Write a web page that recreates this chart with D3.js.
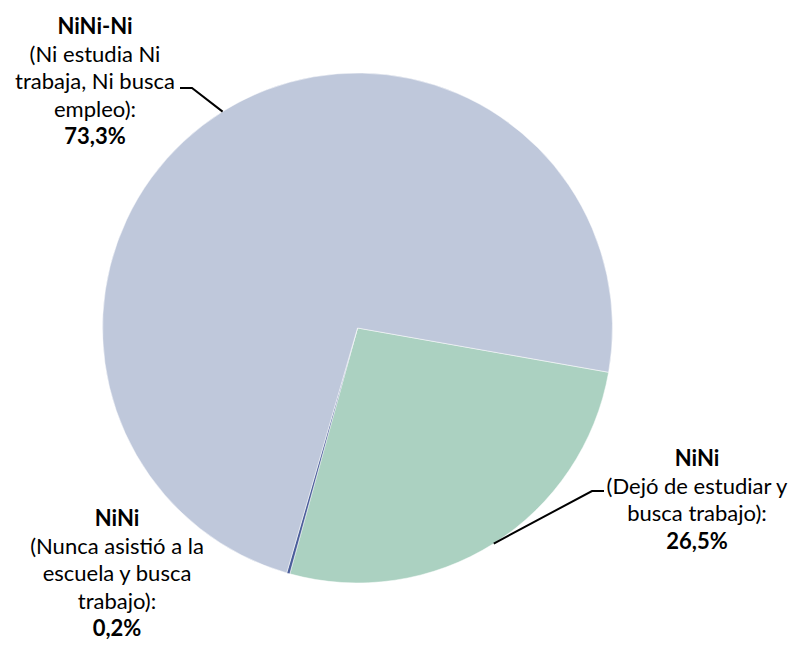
<!DOCTYPE html>
<html>
<head>
<meta charset="utf-8">
<script src="https://cdn.jsdelivr.net/npm/d3@7"></script>
<style>
  body { margin: 0; background: #fff; }
  text { font-family: Lato, "Noto Sans", sans-serif; fill: #000; }
</style>
</head>
<body>
<div id="chart"></div>
<script>
var categories = ["NiNi (Dejó de estudiar y busca trabajo)",
                  "NiNi (Nunca asistió a la escuela y busca trabajo)",
                  "NiNi-Ni (Ni estudia Ni trabaja, Ni busca empleo)"];
var values = [26.5, 0.2, 73.3];
var labelLines = [
  ["NiNi", "(Dejó de estudiar y", "busca trabajo):", "26,5%"],
  ["NiNi", "(Nunca asistió a la", "escuela y busca", "trabajo):", "0,2%"],
  ["NiNi-Ni", "(Ni estudia Ni", "trabaja, Ni busca", "empleo):", "73,3%"]
];
var colors = ["#abd1c1", "#4a5d9a", "#bfc8db"];

var width = 794, height = 646,
    cx = 357.5, cy = 328, radius = 255,
    lineH = 27.5;

// label layout: center of text block (x), first baseline (y), leader elbow
var labelPos = [
  {x: 697, y: 466, leader: true, elbow: [604, 491], side: 1},
  {x: 117, y: 526, leader: false},
  {x: 95,  y: 34,  leader: true, elbow: [180, 88], side: -1}
];

var svg = d3.select('#chart').append('svg')
    .attr('width', width)
    .attr('height', height);

var pie = d3.pie()
    .sort(null)
    .value(function(d) { return d; })
    .startAngle(100 * Math.PI / 180)
    .endAngle(100 * Math.PI / 180 + 2 * Math.PI);

var arc = d3.arc().innerRadius(0).outerRadius(radius);

var arcs = pie(values);

var g = svg.append('g')
    .attr('transform', 'translate(' + cx + ',' + cy + ')');

g.selectAll('path.slice')
    .data(arcs)
  .enter().append('path')
    .attr('class', 'slice')
    .attr('d', arc)
    .attr('fill', function(d, i) { return colors[i]; })
    .attr('stroke', '#fff')
    .attr('stroke-width', 0.5);

// leader lines
arcs.forEach(function(d, i) {
  var p = labelPos[i];
  if (!p.leader) return;
  var mid = (d.startAngle + d.endAngle) / 2;
  var ex = cx + radius * Math.sin(mid),
      ey = cy - radius * Math.cos(mid);
  var pts = [[ex, ey], [p.elbow[0] - p.side * 12, p.elbow[1]], p.elbow];
  svg.append('path')
    .attr('d', d3.line()(pts))
    .attr('fill', 'none')
    .attr('stroke', '#000')
    .attr('stroke-width', 2);
});

// labels
labelLines.forEach(function(lines, i) {
  var p = labelPos[i];
  var t = svg.append('text')
      .attr('text-anchor', 'middle')
      .attr('font-size', '22px');
  lines.forEach(function(s, j) {
    t.append('tspan')
      .attr('x', p.x)
      .attr('y', p.y + j * lineH)
      .attr('font-weight', (j === 0 || j === lines.length - 1) ? 'bold' : 'normal')
      .text(s);
  });
});
</script>
</body>
</html>
